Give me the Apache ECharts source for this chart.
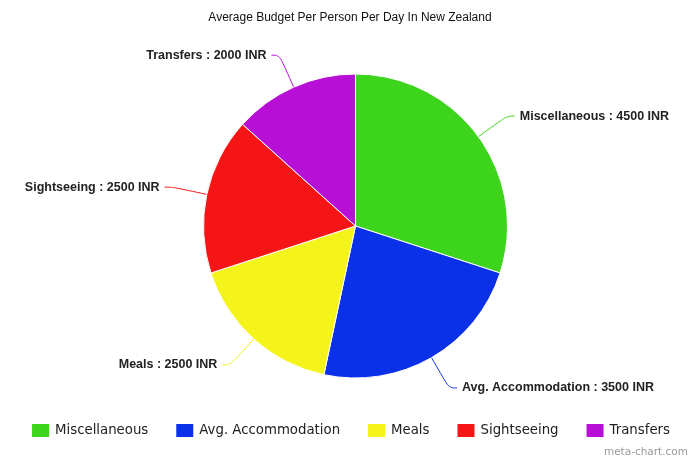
<!DOCTYPE html>
<html>
<head>
<meta charset="utf-8">
<title>Average Budget Per Person Per Day In New Zealand</title>
<script src="https://cdn.jsdelivr.net/npm/echarts@6/dist/echarts.min.js"></script>
<style>
  html, body { margin: 0; padding: 0; background: #fff; }
  #chart { width: 700px; height: 466px; }
</style>
</head>
<body>
<div id="chart"></div>
<script>
const categories = ['Miscellaneous', 'Avg. Accommodation', 'Meals', 'Sightseeing', 'Transfers'];
const amounts = [4500, 3500, 2500, 2500, 2000];
const colors = ['#3dd41c', '#0a30e8', '#f4f41a', '#f61515', '#b70fd6'];
const unit = 'INR';

const chart = echarts.init(document.getElementById('chart'));

chart.setOption({
  backgroundColor: '#fff',
  animation: false,
  title: {
    text: 'Average Budget Per Person Per Day In New Zealand',
    left: 'center',
    top: 7,
    textStyle: { fontFamily: 'Liberation Sans', fontSize: 12, fontWeight: 'normal', color: '#111' },
  },
  legend: {
    bottom: 22,
    left: 'center',
    icon: 'rect',
    itemWidth: 19,
    itemHeight: 15,
    itemGap: 26,
    textStyle: { fontFamily: 'DejaVu Sans', fontSize: 13.3, color: '#222' },
    data: categories,
  },
  graphic: [
    {
      type: 'text',
      right: 12,
      bottom: 8,
      style: { text: 'meta-chart.com', fontFamily: 'DejaVu Sans', fontSize: 10.5, fill: '#999' },
    },
  ],
  series: [
    {
      type: 'pie',
      center: [355.5, 226],
      radius: 152,
      startAngle: 90,
      clockwise: true,
      avoidLabelOverlap: false,
      itemStyle: { borderColor: '#fff', borderWidth: 1 },
      label: {
        formatter: (p) => p.name + ' : ' + p.value + ' ' + unit,
        fontFamily: 'Liberation Sans',
        fontSize: 12.5,
        fontWeight: 'bold',
        color: '#222',
      },
      labelLine: { length: 35, length2: 8, smooth: 0.4, lineStyle: { width: 1 } },
      emphasis: { disabled: true },
      data: categories.map((name, i) => ({ name: name, value: amounts[i], itemStyle: { color: colors[i] } })),
    },
  ],
});
</script>
</body>
</html>
